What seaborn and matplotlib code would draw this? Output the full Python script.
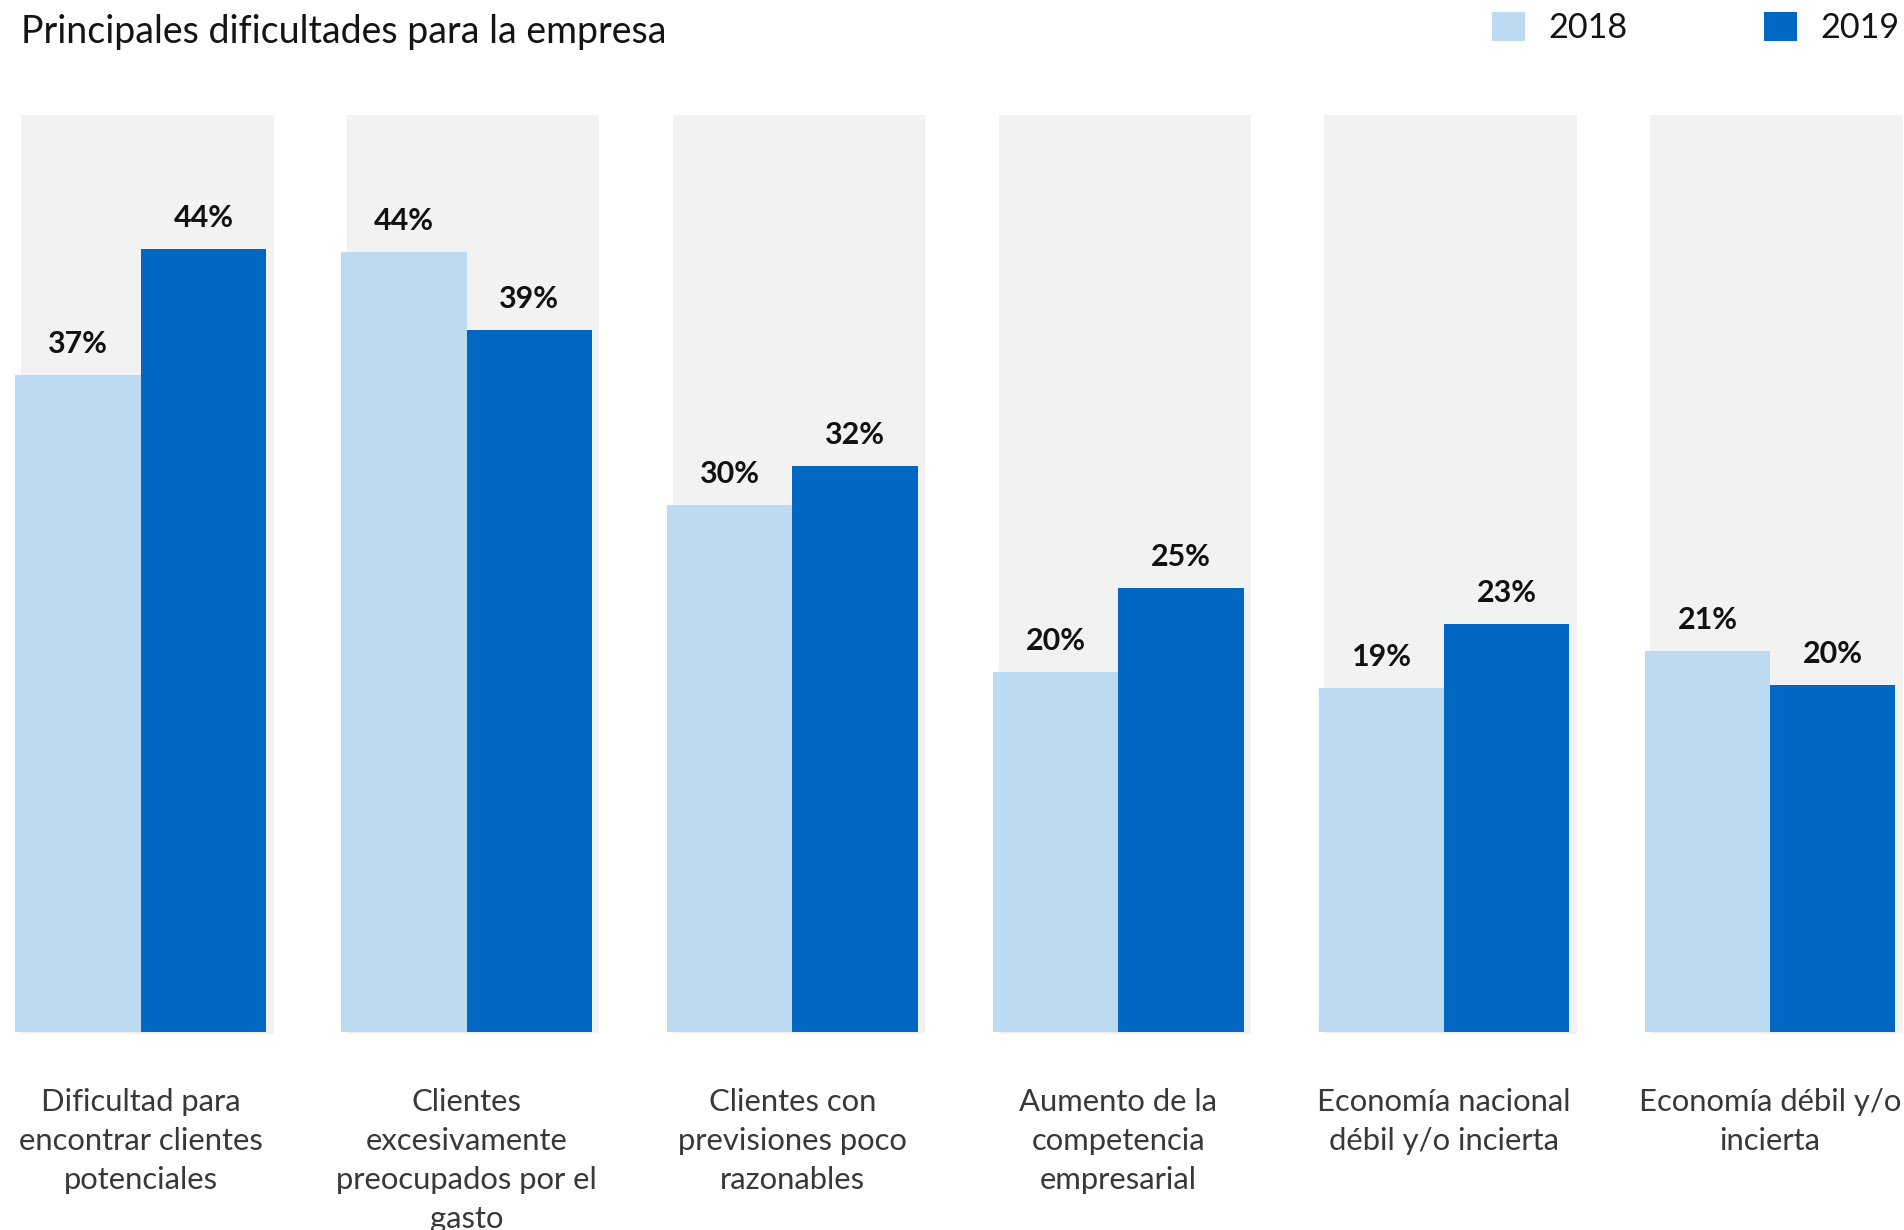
import numpy as np
import pandas as pd
import matplotlib
matplotlib.use("Agg")
import matplotlib.pyplot as plt
import seaborn as sns

# ---------------- data ----------------
categories = [
    "Dificultad para\nencontrar clientes\npotenciales",
    "Clientes\nexcesivamente\npreocupados por el\ngasto",
    "Clientes con\nprevisiones poco\nrazonables",
    "Aumento de la\ncompetencia\nempresarial",
    "Economía nacional\ndébil y/o incierta",
    "Economía débil y/o\nincierta",
]
years = ["2018", "2019"]
values_2018 = [36.9, 43.8, 29.6, 20.2, 19.3, 21.4]
values_2019 = [44.0, 39.4, 31.8, 24.9, 22.9, 19.5]
labels_2018 = ["37%", "44%", "30%", "20%", "19%", "21%"]
labels_2019 = ["44%", "39%", "32%", "25%", "23%", "20%"]
title = "Principales dificultades para la empresa"

LIGHT = "#BCDBF3"
DARK = "#0067C2"
GRAY = "#F2F2F2"
TXT = "#141414"

df = pd.DataFrame({
    "cat": categories * 2,
    "val": values_2018 + values_2019,
    "year": [years[0]] * 6 + [years[1]] * 6,
})

sns.set_theme(style="white")
plt.rcParams["font.family"] = ["Lato", "DejaVu Sans"]

W, H = 1904, 1230
fig = plt.figure(figsize=(W / 100, H / 100), dpi=100)
ax_bottom_px = 1034.3
ax_top_px = 115.0
ax = fig.add_axes([0, (H - ax_bottom_px) / H, 1, (ax_bottom_px - ax_top_px) / H])

sns.barplot(data=df, x="cat", y="val", hue="year", palette=[LIGHT, DARK],
            width=0.769, dodge=True, saturation=1, errorbar=None, ax=ax,
            legend=True, order=categories, hue_order=years, linewidth=0)

ymin, ymax = -0.146, 51.5
ax.set_ylim(ymin, ymax)
ax.set_xlim(-0.4318, 5.411)

# gray background panels
xs = np.arange(len(categories))
ax.bar(xs + 0.02, ymax - ymin, bottom=ymin, width=0.775, color=GRAY,
       zorder=0.5, linewidth=0)

for s in ax.spines.values():
    s.set_visible(False)
ax.set_xticks([])
ax.set_yticks([])
ax.set_xlabel("")
ax.set_ylabel("")

renderer = fig.canvas.get_renderer()

def fit(t, target):
    fs = t.get_fontsize()
    for _ in range(3):
        w = t.get_window_extent(renderer).width
        fs = fs * target / w
        t.set_fontsize(fs)
    return fs

# value labels
probe = fig.text(0, 0, "20%", fontsize=20, fontweight="bold")
vfs = fit(probe, 60)
probe.remove()
for cont, labs in zip(ax.containers, [labels_2018, labels_2019]):
    for bar, lab in zip(cont, labs):
        ax.annotate(lab, xy=(bar.get_x() + bar.get_width() / 2, bar.get_height()),
                    xytext=(0, 22), textcoords="offset pixels", ha="center",
                    va="baseline", fontsize=vfs, fontweight="bold", color="#111111")

# category labels
probe = fig.text(0, 0, "encontrar clientes", fontsize=20, fontweight="normal")
cfs = fit(probe, 245)
probe.remove()
first_base = 1110.7 - ax_bottom_px
for i, cat in enumerate(categories):
    for j, line in enumerate(cat.split("\n")):
        ax.annotate(line, xy=(i, 0), xycoords=("data", "axes fraction"),
                    xytext=(0, -(first_base + j * 39.0)), textcoords="offset pixels",
                    ha="center", va="baseline", fontsize=cfs, fontweight="normal",
                    color="#383838")

# title
t = fig.text(20.6 / W, 1 - 43.5 / H, title, ha="left", va="baseline",
             fontsize=20, color=TXT)
fit(t, 644)

# legend
probe = fig.text(0, 0, "2018", fontsize=20)
lfs = fit(probe, 77) * 1.03
probe.remove()
fpx = lfs * 100 / 72
handles, labs = ax.get_legend_handles_labels()
leg = ax.legend(handles, labs, ncol=2, frameon=False, fontsize=lfs,
                handlelength=33 / fpx, handleheight=32 / fpx,
                handletextpad=23 / fpx, columnspacing=(1767 - 1630) / fpx,
                borderaxespad=0, borderpad=0,
                loc="upper left", bbox_to_anchor=(1492 / W, 1 - 12 / H),
                bbox_transform=fig.transFigure)
for txt in leg.get_texts():
    txt.set_color(TXT)

fig.savefig("out.png", dpi=100)
